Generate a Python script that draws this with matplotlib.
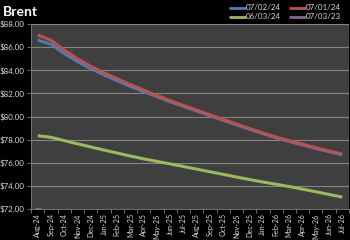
import numpy as np
import matplotlib.pyplot as plt

# forward curve months
months = ["Aug-24", "Sep-24", "Oct-24", "Nov-24", "Dec-24", "Jan-25", "Feb-25",
          "Mar-25", "Apr-25", "May-25", "Jun-25", "Jul-25", "Aug-25", "Sep-25",
          "Oct-25", "Nov-25", "Dec-25", "Jan-26", "Feb-26", "Mar-26", "Apr-26",
          "May-26", "Jun-26", "Jul-26"]

curve_070224 = [86.60, 86.25, 85.45, 84.75, 84.15, 83.60, 83.10, 82.60, 82.15,
                81.72, 81.28, 80.88, 80.48, 80.08, 79.68, 79.28, 78.90, 78.52,
                78.16, 77.84, 77.54, 77.24, 76.96, 76.70]
curve_070124 = [87.05, 86.60, 85.75, 85.00, 84.35, 83.78, 83.26, 82.76, 82.28,
                81.82, 81.37, 80.96, 80.56, 80.15, 79.75, 79.35, 78.96, 78.58,
                78.22, 77.90, 77.60, 77.30, 77.02, 76.75]
curve_060324 = [78.34, 78.20, 77.92, 77.64, 77.37, 77.10, 76.84, 76.58, 76.34,
                76.12, 75.90, 75.68, 75.45, 75.22, 75.00, 74.77, 74.55, 74.34,
                74.14, 73.94, 73.72, 73.50, 73.26, 73.03]
curve_070323 = [72.0] + [np.nan] * 23

series = [
    ("07/02/24", curve_070224, "#4a7ebb"),
    ("07/01/24", curve_070124, "#c0504d"),
    ("06/03/24", curve_060324, "#9bbb59"),
    ("07/03/23", curve_070323, "#8064a2"),
]

plt.rcParams["font.family"] = ["Lato", "DejaVu Sans"]

fig = plt.figure(figsize=(3.5, 2.4), dpi=100, facecolor="black")
ax = fig.add_axes([0.089, 0.129, 0.908, 0.771])
ax.set_facecolor("#3f3f3f")

x = np.arange(len(months))
handles = {}
for name, vals, color in series:
    (h,) = ax.plot(x, vals, color=color, lw=2.2, solid_capstyle="butt",
                   marker="_" if name == "07/03/23" else "", markersize=5,
                   markeredgewidth=2, label=name)
    handles[name] = h

ax.set_xlim(-0.5, len(months) - 0.5)
ax.set_ylim(72, 88)
ax.set_yticks(np.arange(72, 88.1, 2))
ax.set_yticklabels([f"${v:.2f}" for v in np.arange(72, 88.1, 2)],
                   fontsize=5.7, color="#d9d9d9")
ax.set_xticks(x)
ax.set_xticklabels(months, rotation=90, fontsize=5.2, color="#d9d9d9")
ax.set_xticks(np.arange(-0.5, len(months)), minor=True)
ax.tick_params(axis="x", which="major", length=0, pad=3)
ax.tick_params(axis="x", which="minor", length=3, color="#808080", width=0.6)
ax.tick_params(axis="y", length=3, color="#808080", width=0.6, pad=2)

ax.grid(axis="y", color="#858585", lw=0.8)
ax.set_axisbelow(True)
for side in ["top", "right"]:
    ax.spines[side].set_visible(False)
for side in ["left", "bottom"]:
    ax.spines[side].set_color("#808080")
    ax.spines[side].set_linewidth(0.6)

fig.text(0.008, 0.95, "Brent", color="white", fontsize=10, fontweight="bold",
         va="center", ha="left")

order = ["07/02/24", "06/03/24", "07/01/24", "07/03/23"]
leg = fig.legend([handles[n] for n in order], order, ncol=2,
                 loc="upper right", bbox_to_anchor=(0.995, 1.012),
                 frameon=False, fontsize=5.8, handlelength=2.1,
                 handletextpad=0.0, columnspacing=1.0, labelspacing=0.25)
for t in leg.get_texts():
    t.set_color("#d9d9d9")
for lh in leg.get_lines():
    lh.set_marker("")
    lh.set_linewidth(2)

fig.savefig("out.png", dpi=100, facecolor="black")
